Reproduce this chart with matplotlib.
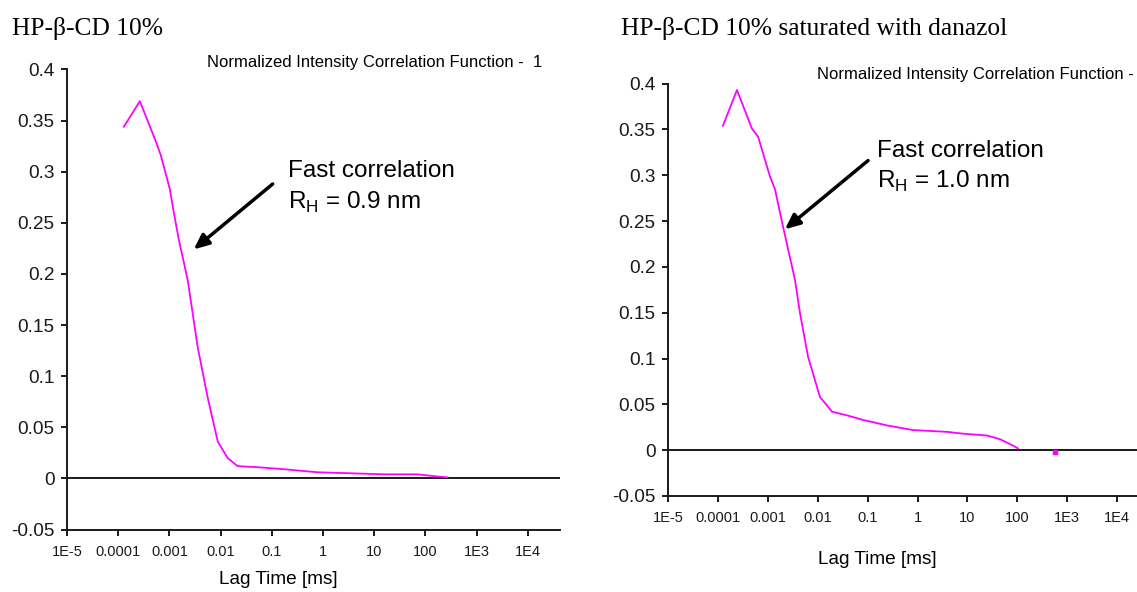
import matplotlib
matplotlib.use("Agg")
import matplotlib.pyplot as plt
import numpy as np

# ---- data ----
left_lag = [1.29e-4, 2.65e-4, 5.4e-4, 6.8e-4, 1.02e-3, 1.22e-3, 1.52e-3, 2.28e-3, 3.58e-3,
            5.6e-3, 8.8e-3, 0.0137, 0.0215, 0.05, 0.17, 0.78, 3.4, 15, 69, 160, 270]
left_g = [0.344, 0.369, 0.330, 0.316, 0.283, 0.260, 0.234, 0.194, 0.128,
          0.079, 0.036, 0.020, 0.012, 0.011, 0.009, 0.006, 0.005, 0.004, 0.004, 0.002, 0.001]

right_lag = [1.26e-4, 2.41e-4, 4.8e-4, 6.4e-4, 1.1e-3, 1.39e-3, 2.0e-3, 3.5e-3, 4.4e-3,
             6.4e-3, 0.0111, 0.0194, 0.0386, 0.081, 0.245, 0.81, 3.9, 8.2, 24.7, 45, 82, 103]
right_g = [0.354, 0.393, 0.351, 0.342, 0.299, 0.285, 0.245, 0.186, 0.150,
           0.102, 0.058, 0.042, 0.038, 0.033, 0.027, 0.022, 0.020, 0.018, 0.016, 0.012, 0.005, 0.002]
right_dot_lag = [570]
right_dot_g = [-0.002]

xtick_vals = [1e-5, 1e-4, 1e-3, 1e-2, 1e-1, 1, 10, 100, 1e3, 1e4]
xtick_labels = ["1E-5", "0.0001", "0.001", "0.01", "0.1", "1", "10", "100", "1E3", "1E4"]
ytick_vals = [-0.05, 0, 0.05, 0.1, 0.15, 0.2, 0.25, 0.3, 0.35, 0.4]
ytick_labels = ["-0.05", "0", "0.05", "0.1", "0.15", "0.2", "0.25", "0.3", "0.35", "0.4"]

titles = ["HP-\u03b2-CD 10%", "HP-\u03b2-CD 10% saturated with danazol"]
headers = ["Normalized Intensity Correlation Function -  1", "Normalized Intensity Correlation Function -"]
annot_text = ["R$_\\mathrm{H}$ = 0.9 nm", "R$_\\mathrm{H}$ = 1.0 nm"]

W, H = 1137, 592
fig = plt.figure(figsize=(W / 100, H / 100), dpi=100)
fig.patch.set_facecolor("white")

SANS = ["Liberation Sans", "DejaVu Sans"]
SERIF = ["Liberation Serif", "DejaVu Serif"]
MAG = "#ff00ff"
INK = "#1a1a1a"
plt.rcParams["mathtext.fontset"] = "custom"
plt.rcParams["mathtext.rm"] = "Liberation Sans"


def px(x, y):
    return x / W, 1 - y / H


def setup(ax, xmax):
    ax.set_xscale("log")
    ax.set_xlim(1e-5, xmax)
    ax.set_ylim(-0.05, 0.4)
    for s in ["top", "right"]:
        ax.spines[s].set_visible(False)
    for s in ["left", "bottom"]:
        ax.spines[s].set_linewidth(1.4)
        ax.spines[s].set_color(INK)
    ax.set_yticks(ytick_vals)
    ax.set_yticklabels(ytick_labels, family=SANS, fontsize=13.7, color=INK)
    ax.set_xticks(xtick_vals)
    ax.set_xticklabels(xtick_labels, family=SANS, fontsize=10.5, color=INK)
    ax.xaxis.set_minor_locator(matplotlib.ticker.LogLocator(base=10, subs=np.arange(2, 10)))
    ax.xaxis.set_minor_formatter(matplotlib.ticker.NullFormatter())
    ax.tick_params(axis="both", which="major", direction="out", length=4, width=1.4, color=INK)
    ax.tick_params(axis="x", which="minor", direction="out", length=2.2, width=0.8, color=INK)
    ax.tick_params(axis="y", pad=5)
    ax.tick_params(axis="x", pad=7)
    ax.axhline(0, color=INK, lw=1.4, zorder=1)


# left axes
x0, y0 = px(67, 529.5)
x1, y1 = px(560, 69.5)
axL = fig.add_axes([x0, y0, x1 - x0, y1 - y0])
setup(axL, 10 ** (-5 + (560 - 67) / 51.2))
axL.plot(left_lag, left_g, color=MAG, lw=1.3, zorder=3)

# right axes
x0, y0 = px(668, 496)
x1, y1 = px(1137, 83.6)
axR = fig.add_axes([x0, y0, x1 - x0, y1 - y0])
setup(axR, 10 ** (-5 + (1137 - 668) / 49.9))
axR.plot(right_lag, right_g, color=MAG, lw=1.3, zorder=3)
axR.plot(right_dot_lag, right_dot_g, marker="s", ms=2.5, color=MAG, lw=0, zorder=3)

# annotations
arrow = dict(arrowstyle="-|>,head_length=0.9,head_width=0.4", lw=2.5, color="black",
             shrinkA=0, shrinkB=0)
axL.annotate("", xy=(2.99e-3, 0.224), xytext=(0.104, 0.288), arrowprops=arrow)
axL.text(0.203, 0.301, "Fast correlation", family=SANS, fontsize=17.5, va="center", ha="left")
axL.text(0.203, 0.270, annot_text[0], family=SANS, fontsize=17.5, va="center", ha="left")

axR.annotate("", xy=(2.2e-3, 0.241), xytext=(0.102, 0.316), arrowprops=arrow)
axR.text(0.154, 0.327, "Fast correlation", family=SANS, fontsize=17.5, va="center", ha="left")
axR.text(0.154, 0.293, annot_text[1], family=SANS, fontsize=17.5, va="center", ha="left")

# titles and headers
fig.text(*px(12, 28), titles[0], family=SERIF, fontsize=18.4, va="center", ha="left")
fig.text(*px(621, 28), titles[1], family=SERIF, fontsize=18.4, va="center", ha="left")
fig.text(*px(207, 63), headers[0], family=SANS, fontsize=12, va="center", ha="left")
fig.text(*px(817, 75), headers[1], family=SANS, fontsize=12, va="center", ha="left")

fig.text(*px(278, 580), "Lag Time [ms]", family=SANS, fontsize=13.7, va="center", ha="center")
fig.text(*px(877, 560), "Lag Time [ms]", family=SANS, fontsize=13.7, va="center", ha="center")

fig.savefig("out.png", dpi=100, facecolor="white")
